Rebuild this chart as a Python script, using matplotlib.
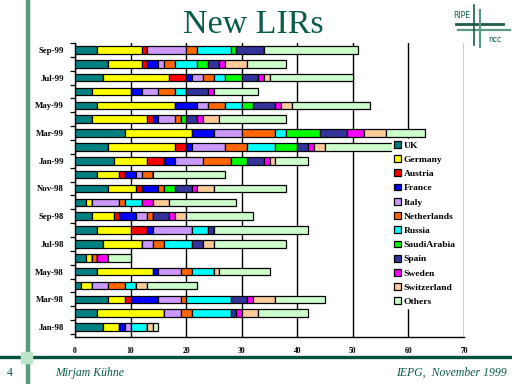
"""
New LIRs per month (Jan-98 .. Sep-99), stacked by country. Slide-style recreation.
"""
import numpy as np
import matplotlib
matplotlib.use("Agg")
import matplotlib.pyplot as plt
from matplotlib.lines import Line2D
from matplotlib.patches import Rectangle

# ── data (chronological, Jan-98 first) ────────────────────────────────────────
MONTHS = ["Jan-98", "Feb-98", "Mar-98", "Apr-98", "May-98", "Jun-98", "Jul-98",
          "Aug-98", "Sep-98", "Oct-98", "Nov-98", "Dec-98", "Jan-99", "Feb-99",
          "Mar-99", "Apr-99", "May-99", "Jun-99", "Jul-99", "Aug-99", "Sep-99"]
COUNTRIES = ["UK", "Germany", "Austria", "France", "Italy", "Netherlands",
             "Russia", "SaudiArabia", "Spain", "Sweden", "Switzerland", "Others"]

uk          = [5, 4, 6, 1, 4, 2, 5, 4, 3, 2, 6, 4, 7, 6, 9, 3, 4, 3, 5, 6, 4]
germany     = [3, 12, 3, 2, 10, 1, 7, 6, 4, 1, 5, 4, 6, 12, 12, 10, 14, 7, 12, 6, 8]
austria     = [0, 0, 1, 0, 0, 0, 0, 3, 1, 0, 1, 1, 3, 2, 0, 1, 0, 0, 3, 1, 1]
france      = [1, 0, 5, 0, 1, 0, 0, 1, 3, 0, 3, 2, 2, 1, 4, 1, 4, 2, 1, 2, 0]
italy       = [1, 3, 4, 3, 4, 0, 2, 7, 2, 5, 0, 1, 5, 6, 5, 3, 2, 3, 2, 1, 7]
netherlands = [0, 2, 1, 3, 2, 1, 2, 0, 1, 1, 1, 2, 5, 4, 6, 1, 3, 3, 2, 2, 2]
russia      = [3, 7, 8, 2, 4, 0, 5, 3, 0, 3, 0, 0, 0, 5, 2, 0, 3, 2, 2, 4, 6]
saudiarabia = [0, 0, 0, 0, 0, 0, 0, 0, 0, 0, 2, 0, 3, 4, 6, 1, 2, 0, 3, 2, 1]
spain       = [0, 1, 3, 0, 0, 0, 2, 1, 3, 0, 3, 0, 3, 2, 5, 2, 4, 4, 3, 2, 5]
sweden      = [0, 1, 1, 0, 0, 2, 0, 0, 1, 2, 1, 0, 1, 1, 3, 1, 1, 1, 1, 1, 0]
switzerland = [1, 3, 4, 2, 1, 0, 2, 0, 2, 3, 3, 0, 1, 2, 4, 3, 2, 0, 1, 4, 0]
others      = [1, 9, 9, 9, 9, 4, 13, 17, 12, 12, 13, 13, 6, 14, 7, 12, 14, 8, 15, 7, 17]

series = [uk, germany, austria, france, italy, netherlands, russia,
          saudiarabia, spain, sweden, switzerland, others]
colors = ["#008080", "#FFFF00", "#FF0000", "#0000FF", "#CC99FF", "#FF6600",
          "#00FFFF", "#00FF00", "#333399", "#FF00FF", "#FFCC99", "#CCFFCC"]

DARK = "#0a5c4a"
MID = "#5a9a80"
SERIF = ["Liberation Serif", "DejaVu Serif"]

# ── figure / slide furniture ──────────────────────────────────────────────────
fig = plt.figure(figsize=(5.12, 3.84), dpi=100)
W, H = 512.0, 384.0

def fx(px): return px / W
def fy(py): return 1 - py / H

# left vertical bar, bottom rule and little square
fig.add_artist(Line2D([fx(28), fx(28)], [0, 1], color=MID, lw=3.2))
fig.add_artist(Line2D([0, 1], [fy(357), fy(357)], color="#00503f", lw=2.4))
fig.add_artist(Rectangle((fx(21), fy(363)), 11 / W, 11 / H, color="#bde5c8", zorder=5))

fig.text(fx(253), fy(25), "New LIRs", ha="center", va="center", fontsize=24.5,
         color=DARK, family=SERIF)
fig.text(fx(10), fy(373), "4", ha="center", va="center", fontsize=8.5, color=DARK,
         family=SERIF)
fig.text(fx(55), fy(373), "Mirjam Kühne", ha="left", va="center", fontsize=8.5,
         color=DARK, family=SERIF, style="italic")
fig.text(fx(507), fy(373), "IEPG,  November 1999", ha="right", va="center",
         fontsize=8.5, color=DARK, family=SERIF, style="italic")

# RIPE ncc logo
fig.text(fx(462), fy(15), "RIPE", ha="center", va="center", fontsize=5.5,
         color=DARK, family="DejaVu Sans")
fig.text(fx(495), fy(39), "ncc", ha="center", va="center", fontsize=5.5,
         color=DARK, family="DejaVu Sans")
fig.add_artist(Line2D([fx(456), fx(503)], [fy(24), fy(24)], color="#1a5c48", lw=2))
fig.add_artist(Line2D([fx(458), fx(510)], [fy(29.5), fy(29.5)], color=MID, lw=1.6))
fig.add_artist(Line2D([fx(474), fx(474)], [fy(5), fy(45)], color="#1a5c48", lw=1.2))
fig.add_artist(Line2D([fx(480), fx(480)], [fy(10), fy(47)], color=MID, lw=1.6))

# ── chart ─────────────────────────────────────────────────────────────────────
ax = fig.add_axes([fx(75), fy(337), (464 - 75) / W, (337 - 43) / H])
y = np.arange(len(MONTHS))
left = np.zeros(len(MONTHS))
for name, vals, c in zip(COUNTRIES, series, colors):
    vals = np.array(vals, dtype=float)
    ax.barh(y, vals, left=left, height=0.55, color=c, edgecolor="black",
            linewidth=0.9, label=name, zorder=3)
    left += vals

ax.set_xlim(0, 70)
ax.set_ylim(-0.72, 20.36)
for xv in range(0, 71, 10):
    ax.axvline(xv, color="black", lw=1.0, zorder=1)

ax.set_xticks(range(0, 71, 10))
ax.set_xticklabels([str(v) for v in range(0, 71, 10)], fontsize=5.5,
                   fontweight="bold", family=SERIF)
ax.tick_params(axis="x", length=0, pad=7)

ax.set_yticks(y[::-2])
ax.set_yticklabels([MONTHS[i] for i in y[::-2]], fontsize=6.3, fontweight="bold",
                   family=SERIF)
ax.set_yticks(np.arange(-0.5, 20.6, 1), minor=True)
ax.tick_params(axis="y", which="major", length=0, pad=8)
ax.tick_params(axis="y", which="minor", length=3.5, width=0.9, direction="out")

for s in ["top", "right"]:
    ax.spines[s].set_visible(False)
ax.spines["left"].set_linewidth(1.0)
ax.spines["bottom"].set_linewidth(1.0)

leg = fig.legend(loc="upper left", bbox_to_anchor=(fx(392), fy(139)),
                 frameon=True, framealpha=1, edgecolor="white", facecolor="white",
                 fancybox=False, prop={"family": SERIF, "weight": "bold", "size": 6.8},
                 handlelength=0.75, handleheight=0.75, handletextpad=0.3,
                 labelspacing=0.58, borderpad=0.2, borderaxespad=0)
leg.set_zorder(10)

fig.savefig("out.png", dpi=100)
